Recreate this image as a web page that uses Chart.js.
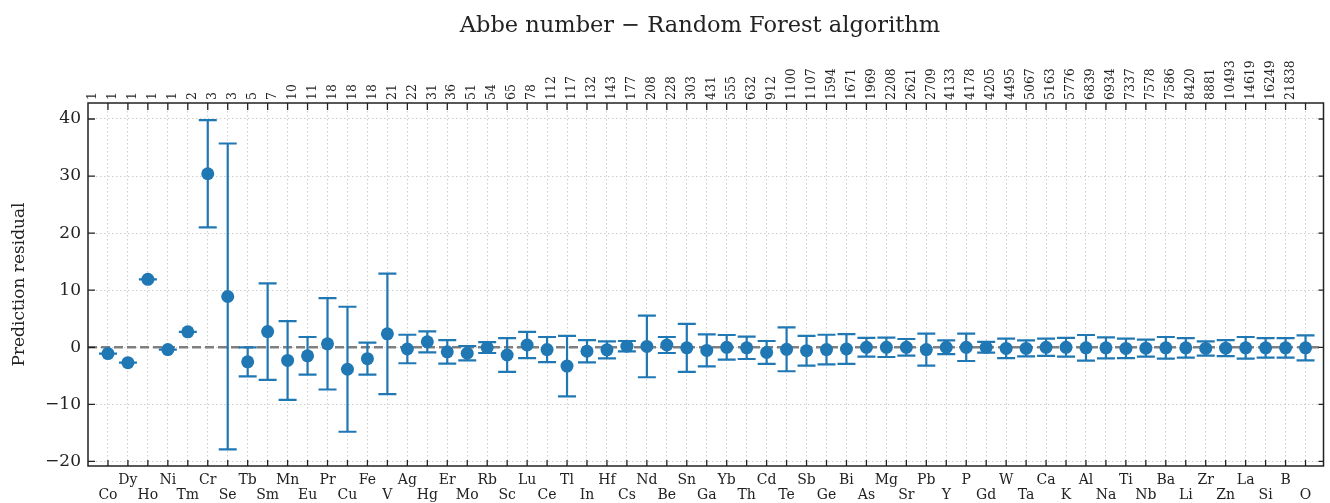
<!DOCTYPE html>
<html>
<head>
<meta charset="utf-8">
<script src="https://cdn.jsdelivr.net/npm/chart.js@4.4.1/dist/chart.umd.min.js"></script>
<style>
  html, body { margin: 0; padding: 0; background: #fff; }
  #wrap { width: 1330px; height: 503px; }
</style>
</head>
<body>
<div id="wrap"><canvas id="chart" width="1330" height="503"></canvas></div>
<script>
'use strict';

// elements, ordered by number of samples
const elements = ['Co','Dy','Ho','Ni','Tm','Cr','Se','Tb','Sm','Mn','Eu','Pr','Cu','Fe','V','Ag','Hg','Er','Mo','Rb',
  'Sc','Lu','Ce','Tl','In','Hf','Cs','Nd','Be','Sn','Ga','Yb','Th','Cd','Te','Sb','Ge','Bi','As','Mg',
  'Sr','Pb','Y','P','Gd','W','Ta','Ca','K','Al','Na','Ti','Nb','Ba','Li','Zr','Zn','La','Si','B','O'];

const counts = [1,1,1,1,1,2,3,3,5,7,10,11,18,18,18,21,22,31,36,51,
  54,65,78,112,117,132,143,177,208,228,303,431,555,632,912,1100,1107,1594,1671,1969,
  2208,2621,2709,4133,4178,4205,4495,5067,5163,5776,6839,6934,7337,7578,7586,8420,8881,10493,14619,16249,21838];

const residuals = [-1.1,-2.7,11.9,-0.4,2.7,30.4,8.9,-2.55,2.75,-2.3,-1.5,0.6,-3.85,-2.0,2.35,-0.3,0.95,-0.8,-1.05,-0.05,
  -1.35,0.4,-0.4,-3.3,-0.7,-0.45,0.2,0.15,0.4,-0.1,-0.55,0,-0.1,-0.9,-0.35,-0.6,-0.4,-0.3,0,0,
  0,-0.4,0,0,0,-0.2,-0.2,0,0,-0.1,-0.1,-0.2,-0.15,-0.1,-0.1,-0.2,-0.15,-0.1,-0.1,-0.1,-0.1];

const errors = [0,0,0,0,0,9.4,26.8,2.55,8.45,6.9,3.3,8.0,10.95,2.8,10.55,2.5,1.85,2.05,1.25,0.95,
  2.95,2.3,2.2,5.3,1.95,1.5,0.9,5.4,1.4,4.2,2.8,2.15,1.95,2.0,3.85,2.6,2.6,2.6,1.65,1.7,
  1.45,2.8,1.2,2.4,0.95,1.7,1.4,1.5,1.65,2.25,1.85,1.7,1.5,1.9,1.7,1.25,1.4,1.9,1.7,1.7,2.2];

const yTicks = [-20, -10, 0, 10, 20, 30, 40];

const titleText = 'Abbe number \u2212 Random Forest algorithm';
const serif = "'DejaVu Serif', 'Liberation Serif', serif";
const blue = '#1f77b4';
const ink = '#222222';

const points = residuals.map((v, i) => ({ x: i, y: v }));

function categoryTicks(scale) {
  scale.ticks = elements.map((_, i) => ({ value: i }));
}

function noPadding(scale) {
  scale.paddingLeft = 0;
  scale.paddingRight = 0;
  scale.paddingTop = 0;
  scale.paddingBottom = 0;
}

// error bars, zero line, frame, inward ticks and title
const extras = {
  id: 'extras',
  beforeDatasetsDraw(chart) {
    const ctx = chart.ctx;
    const area = chart.chartArea;
    const x = chart.scales.x;
    const y = chart.scales.y;

    ctx.save();
    const y0 = y.getPixelForValue(0);
    ctx.strokeStyle = '#7f7f7f';
    ctx.lineWidth = 2.5;
    ctx.setLineDash([9, 4]);
    ctx.beginPath();
    ctx.moveTo(area.left, y0);
    ctx.lineTo(area.right, y0);
    ctx.stroke();
    ctx.setLineDash([]);

    ctx.strokeStyle = blue;
    ctx.lineWidth = 2.2;
    for (let i = 0; i < residuals.length; i++) {
      const px = x.getPixelForValue(i);
      const hi = y.getPixelForValue(residuals[i] + errors[i]);
      const lo = y.getPixelForValue(residuals[i] - errors[i]);
      ctx.beginPath();
      ctx.moveTo(px, hi);
      ctx.lineTo(px, lo);
      ctx.moveTo(px - 9, hi);
      ctx.lineTo(px + 9, hi);
      ctx.moveTo(px - 9, lo);
      ctx.lineTo(px + 9, lo);
      ctx.stroke();
    }
    ctx.restore();
  },
  afterDraw(chart) {
    const ctx = chart.ctx;
    const area = chart.chartArea;
    const x = chart.scales.x;
    const y = chart.scales.y;

    ctx.save();
    ctx.strokeStyle = ink;
    ctx.lineWidth = 1.5;
    ctx.strokeRect(area.left, area.top, area.right - area.left, area.bottom - area.top);

    ctx.lineWidth = 1.3;
    ctx.beginPath();
    yTicks.forEach(v => {
      const py = y.getPixelForValue(v);
      ctx.moveTo(area.left, py);
      ctx.lineTo(area.left + 7, py);
      ctx.moveTo(area.right, py);
      ctx.lineTo(area.right - 5, py);
    });
    for (let i = 0; i < elements.length; i++) {
      const px = x.getPixelForValue(i);
      ctx.moveTo(px, area.bottom);
      ctx.lineTo(px, area.bottom - 6);
      ctx.moveTo(px, area.top);
      ctx.lineTo(px, area.top + 7);
    }
    ctx.stroke();

    ctx.fillStyle = ink;
    ctx.font = '22.5px ' + serif;
    ctx.textAlign = 'center';
    ctx.textBaseline = 'alphabetic';
    ctx.fillText(titleText, 700, 32);
    ctx.restore();
  }
};

const data = {
  datasets: [{
    label: 'residual',
    data: points,
    showLine: false,
    pointRadius: 6.5,
    pointHoverRadius: 6.5,
    pointBackgroundColor: blue,
    pointBorderWidth: 0,
    borderColor: blue
  }]
};

const gridStyle = { color: '#cfcfcf', lineWidth: 1, drawTicks: false };
const gridBorder = { display: false, dash: [1.5, 2.5] };

const config = {
  type: 'scatter',
  data: data,
  options: {
    responsive: false,
    animation: false,
    devicePixelRatio: 1,
    layout: { padding: { left: 0, right: 3, top: 0, bottom: 0 } },
    plugins: {
      legend: { display: false },
      title: { display: false },
      tooltip: { enabled: false }
    },
    scales: {
      x: {
        type: 'linear',
        position: 'bottom',
        min: -1,
        max: 60.9,
        afterBuildTicks: categoryTicks,
        afterFit: s => { s.height = 37; noPadding(s); },
        ticks: {
          autoSkip: false,
          maxRotation: 0,
          minRotation: 0,
          padding: 7,
          color: ink,
          font: { family: serif, size: 14, lineHeight: 1.08 },
          callback: v => (v % 2 === 0 ? ['', elements[v]] : [elements[v], ''])
        },
        grid: gridStyle,
        border: gridBorder
      },
      x2: {
        type: 'linear',
        position: 'top',
        min: -1,
        max: 60.9,
        afterBuildTicks: categoryTicks,
        afterFit: s => { s.height = 103; noPadding(s); },
        ticks: {
          autoSkip: false,
          maxRotation: 90,
          minRotation: 90,
          padding: 3,
          color: ink,
          font: { family: serif, size: 12.5 },
          callback: v => String(counts[v])
        },
        grid: { display: false, drawTicks: false },
        border: { display: false }
      },
      y: {
        type: 'linear',
        position: 'left',
        min: -20.8,
        max: 42.8,
        afterBuildTicks: s => { s.ticks = yTicks.map(v => ({ value: v })); },
        afterFit: s => { s.width = 88; noPadding(s); },
        ticks: {
          padding: 7,
          color: ink,
          font: { family: serif, size: 17 },
          callback: v => String(v).replace('-', '\u2212')
        },
        title: {
          display: true,
          text: 'Prediction residual',
          color: ink,
          font: { family: serif, size: 17 },
          padding: { top: 9, bottom: 0 }
        },
        grid: gridStyle,
        border: gridBorder
      }
    }
  },
  plugins: [extras]
};

const myChart = new Chart(document.getElementById('chart'), config);
</script>
</body>
</html>
